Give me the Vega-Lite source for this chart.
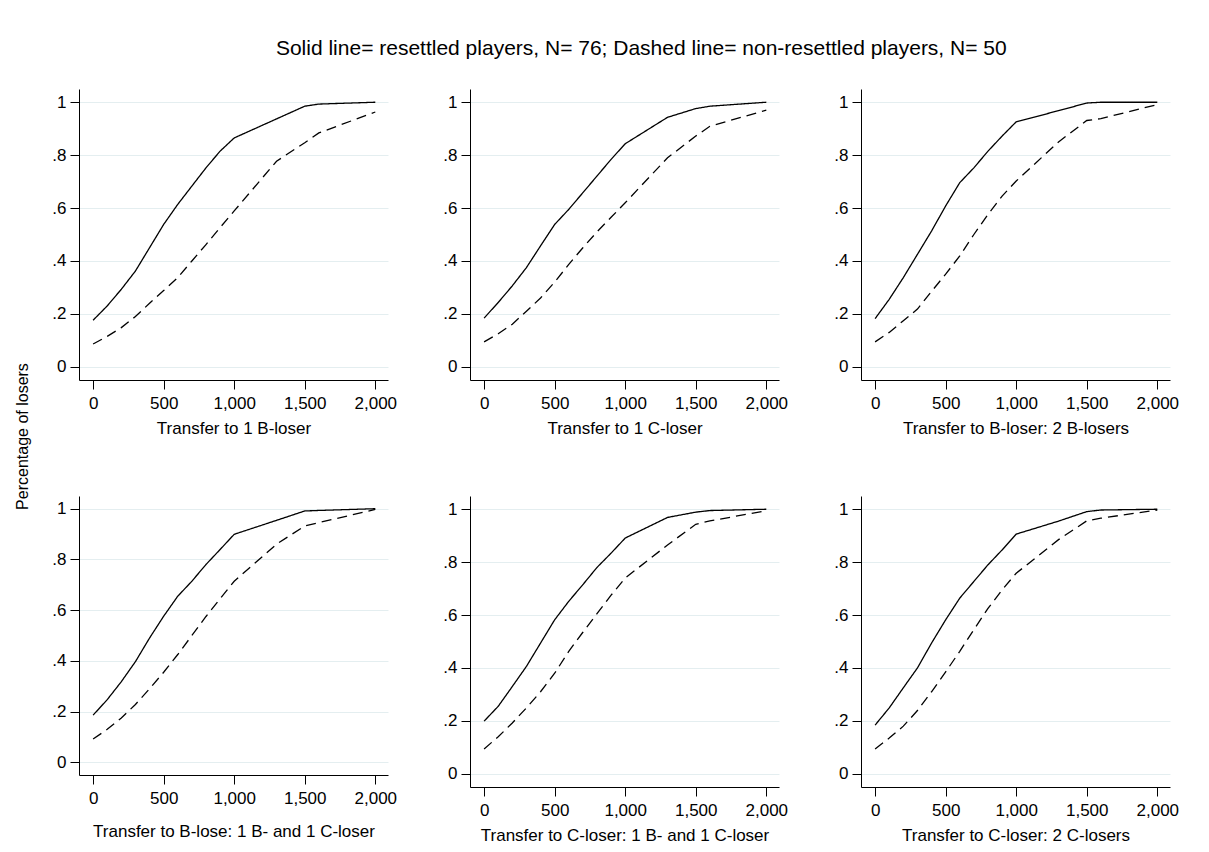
{
  "$schema": "https://vega.github.io/schema/vega-lite/v6.json",
  "background": "white",
  "padding": {"left": 14, "top": 38, "right": 5, "bottom": 5},
  "title": {"text": "Solid line= resettled players, N= 76; Dashed line= non-resettled players, N= 50", "font": "Liberation Sans", "fontSize": 21, "fontWeight": "normal", "color": "black", "anchor": "middle", "offset": 30, "dx": 45},
  "data": {"values": [
    {"p":1,"x":0,"s":0.176,"d":0.086},{"p":1,"x":100,"s":0.23,"d":0.115},{"p":1,"x":200,"s":0.293,"d":0.148},{"p":1,"x":300,"s":0.362,"d":0.19},{"p":1,"x":400,"s":0.45,"d":0.24},{"p":1,"x":500,"s":0.538,"d":0.288},{"p":1,"x":600,"s":0.614,"d":0.337},{"p":1,"x":700,"s":0.683,"d":0.4},{"p":1,"x":800,"s":0.752,"d":0.462},{"p":1,"x":900,"s":0.815,"d":0.526},{"p":1,"x":1000,"s":0.865,"d":0.589},{"p":1,"x":1300,"s":0.937,"d":0.777},{"p":1,"x":1500,"s":0.985,"d":0.847},{"p":1,"x":1600,"s":0.993,"d":0.884},{"p":1,"x":2000,"s":1.0,"d":0.963},
    {"p":2,"x":0,"s":0.184,"d":0.094},{"p":2,"x":100,"s":0.243,"d":0.125},{"p":2,"x":200,"s":0.306,"d":0.161},{"p":2,"x":300,"s":0.375,"d":0.21},{"p":2,"x":400,"s":0.457,"d":0.26},{"p":2,"x":500,"s":0.538,"d":0.32},{"p":2,"x":600,"s":0.595,"d":0.387},{"p":2,"x":700,"s":0.658,"d":0.45},{"p":2,"x":800,"s":0.721,"d":0.51},{"p":2,"x":900,"s":0.784,"d":0.565},{"p":2,"x":1000,"s":0.843,"d":0.62},{"p":2,"x":1300,"s":0.943,"d":0.79},{"p":2,"x":1500,"s":0.976,"d":0.872},{"p":2,"x":1600,"s":0.985,"d":0.909},{"p":2,"x":2000,"s":1.0,"d":0.97},
    {"p":3,"x":0,"s":0.182,"d":0.094},{"p":3,"x":100,"s":0.255,"d":0.13},{"p":3,"x":200,"s":0.337,"d":0.174},{"p":3,"x":300,"s":0.425,"d":0.218},{"p":3,"x":400,"s":0.513,"d":0.285},{"p":3,"x":500,"s":0.608,"d":0.35},{"p":3,"x":600,"s":0.696,"d":0.419},{"p":3,"x":700,"s":0.752,"d":0.5},{"p":3,"x":800,"s":0.815,"d":0.576},{"p":3,"x":900,"s":0.872,"d":0.645},{"p":3,"x":1000,"s":0.926,"d":0.702},{"p":3,"x":1300,"s":0.968,"d":0.85},{"p":3,"x":1500,"s":0.997,"d":0.931},{"p":3,"x":1600,"s":1.0,"d":0.938},{"p":3,"x":2000,"s":1.0,"d":0.991},
    {"p":4,"x":0,"s":0.186,"d":0.092},{"p":4,"x":100,"s":0.247,"d":0.13},{"p":4,"x":200,"s":0.318,"d":0.175},{"p":4,"x":300,"s":0.397,"d":0.228},{"p":4,"x":400,"s":0.49,"d":0.29},{"p":4,"x":500,"s":0.576,"d":0.355},{"p":4,"x":600,"s":0.655,"d":0.425},{"p":4,"x":700,"s":0.714,"d":0.5},{"p":4,"x":800,"s":0.78,"d":0.575},{"p":4,"x":900,"s":0.839,"d":0.645},{"p":4,"x":1000,"s":0.899,"d":0.714},{"p":4,"x":1300,"s":0.954,"d":0.86},{"p":4,"x":1500,"s":0.991,"d":0.932},{"p":4,"x":1600,"s":0.993,"d":0.945},{"p":4,"x":2000,"s":1.0,"d":0.997},
    {"p":5,"x":0,"s":0.199,"d":0.094},{"p":5,"x":100,"s":0.255,"d":0.14},{"p":5,"x":200,"s":0.33,"d":0.192},{"p":5,"x":300,"s":0.406,"d":0.249},{"p":5,"x":400,"s":0.494,"d":0.31},{"p":5,"x":500,"s":0.582,"d":0.38},{"p":5,"x":600,"s":0.652,"d":0.463},{"p":5,"x":700,"s":0.715,"d":0.535},{"p":5,"x":800,"s":0.78,"d":0.605},{"p":5,"x":900,"s":0.834,"d":0.675},{"p":5,"x":1000,"s":0.891,"d":0.74},{"p":5,"x":1300,"s":0.969,"d":0.865},{"p":5,"x":1500,"s":0.989,"d":0.943},{"p":5,"x":1600,"s":0.995,"d":0.956},{"p":5,"x":2000,"s":1.0,"d":0.994},
    {"p":6,"x":0,"s":0.184,"d":0.094},{"p":6,"x":100,"s":0.249,"d":0.135},{"p":6,"x":200,"s":0.325,"d":0.18},{"p":6,"x":300,"s":0.4,"d":0.239},{"p":6,"x":400,"s":0.494,"d":0.31},{"p":6,"x":500,"s":0.582,"d":0.385},{"p":6,"x":600,"s":0.664,"d":0.463},{"p":6,"x":700,"s":0.727,"d":0.545},{"p":6,"x":800,"s":0.79,"d":0.625},{"p":6,"x":900,"s":0.846,"d":0.695},{"p":6,"x":1000,"s":0.906,"d":0.758},{"p":6,"x":1300,"s":0.955,"d":0.885},{"p":6,"x":1500,"s":0.991,"d":0.956},{"p":6,"x":1600,"s":0.997,"d":0.966},{"p":6,"x":2000,"s":1.0,"d":0.997}
  ]},
  "config": {
    "view": {"stroke": null},
    "axis": {"labelFont": "Liberation Sans", "titleFont": "Liberation Sans", "labelFontSize": 17, "titleFontSize": 17, "titleFontWeight": "normal", "labelColor": "black", "titleColor": "black", "domainColor": "black", "tickColor": "black", "tickSize": 9, "domainWidth": 1, "tickWidth": 1, "gridColor": "#e4eef0", "gridWidth": 1},
    "axisX": {"grid": false, "labelPadding": 6, "titlePadding": 9, "labelFlush": false},
    "axisY": {"grid": true, "labelPadding": 4}
  },
  "columns": 3,
  "spacing": {"row": 116, "column": 82},
  "bounds": "flush",
  "concat": [
      {"width": 309, "height": 291, "transform": [{"filter": "datum.p == 1"}, {"fold": ["s", "d"], "as": ["g", "y"]}],
       "mark": {"type": "line", "color": "black", "strokeWidth": 1.3},
       "encoding": {
         "x": {"field": "x", "type": "quantitative", "scale": {"domain": [-100, 2090], "nice": false, "zero": false}, "axis": {"values": [0, 500, 1000, 1500, 2000], "format": ",.0f", "title": "Transfer to 1 B-loser"}},
         "y": {"field": "y", "type": "quantitative", "scale": {"domain": [-0.05, 1.05], "nice": false}, "axis": {"values": [0, 0.2, 0.4, 0.6, 0.8, 1], "labelExpr": "datum.value == 0 ? '0' : datum.value == 1 ? '1' : replace(format(datum.value, '.1f'), '0.', '.')", "title": "Percentage of losers", "titleFontSize": 16, "titleX": -57, "titleY": 347, "titleAngle": -90, "titleAlign": "center", "titleBaseline": "middle"}},
         "strokeDash": {"field": "g", "type": "nominal", "scale": {"domain": ["s", "d"], "range": [[1, 0], [10, 6]]}, "legend": null}
       }},
      {"width": 309, "height": 291, "transform": [{"filter": "datum.p == 2"}, {"fold": ["s", "d"], "as": ["g", "y"]}],
       "mark": {"type": "line", "color": "black", "strokeWidth": 1.3},
       "encoding": {
         "x": {"field": "x", "type": "quantitative", "scale": {"domain": [-100, 2090], "nice": false, "zero": false}, "axis": {"values": [0, 500, 1000, 1500, 2000], "format": ",.0f", "title": "Transfer to 1 C-loser"}},
         "y": {"field": "y", "type": "quantitative", "scale": {"domain": [-0.05, 1.05], "nice": false}, "axis": {"values": [0, 0.2, 0.4, 0.6, 0.8, 1], "labelExpr": "datum.value == 0 ? '0' : datum.value == 1 ? '1' : replace(format(datum.value, '.1f'), '0.', '.')", "title": null}},
         "strokeDash": {"field": "g", "type": "nominal", "scale": {"domain": ["s", "d"], "range": [[1, 0], [10, 6]]}, "legend": null}
       }},
      {"width": 309, "height": 291, "transform": [{"filter": "datum.p == 3"}, {"fold": ["s", "d"], "as": ["g", "y"]}],
       "mark": {"type": "line", "color": "black", "strokeWidth": 1.3},
       "encoding": {
         "x": {"field": "x", "type": "quantitative", "scale": {"domain": [-100, 2090], "nice": false, "zero": false}, "axis": {"values": [0, 500, 1000, 1500, 2000], "format": ",.0f", "title": "Transfer to B-loser: 2 B-losers"}},
         "y": {"field": "y", "type": "quantitative", "scale": {"domain": [-0.05, 1.05], "nice": false}, "axis": {"values": [0, 0.2, 0.4, 0.6, 0.8, 1], "labelExpr": "datum.value == 0 ? '0' : datum.value == 1 ? '1' : replace(format(datum.value, '.1f'), '0.', '.')", "title": null}},
         "strokeDash": {"field": "g", "type": "nominal", "scale": {"domain": ["s", "d"], "range": [[1, 0], [10, 6]]}, "legend": null}
       }},
      {"width": 309, "height": 279, "transform": [{"filter": "datum.p == 4"}, {"fold": ["s", "d"], "as": ["g", "y"]}],
       "mark": {"type": "line", "color": "black", "strokeWidth": 1.3},
       "encoding": {
         "x": {"field": "x", "type": "quantitative", "scale": {"domain": [-100, 2090], "nice": false, "zero": false}, "axis": {"values": [0, 500, 1000, 1500, 2000], "format": ",.0f", "title": "Transfer to B-lose: 1 B- and 1 C-loser", "titlePadding": 17}},
         "y": {"field": "y", "type": "quantitative", "scale": {"domain": [-0.05, 1.05], "nice": false}, "axis": {"values": [0, 0.2, 0.4, 0.6, 0.8, 1], "labelExpr": "datum.value == 0 ? '0' : datum.value == 1 ? '1' : replace(format(datum.value, '.1f'), '0.', '.')", "title": null}},
         "strokeDash": {"field": "g", "type": "nominal", "scale": {"domain": ["s", "d"], "range": [[1, 0], [10, 6]]}, "legend": null}
       }},
      {"width": 309, "height": 291, "transform": [{"filter": "datum.p == 5"}, {"fold": ["s", "d"], "as": ["g", "y"]}],
       "mark": {"type": "line", "color": "black", "strokeWidth": 1.3},
       "encoding": {
         "x": {"field": "x", "type": "quantitative", "scale": {"domain": [-100, 2090], "nice": false, "zero": false}, "axis": {"values": [0, 500, 1000, 1500, 2000], "format": ",.0f", "title": "Transfer to C-loser: 1 B- and 1 C-loser"}},
         "y": {"field": "y", "type": "quantitative", "scale": {"domain": [-0.05, 1.05], "nice": false}, "axis": {"values": [0, 0.2, 0.4, 0.6, 0.8, 1], "labelExpr": "datum.value == 0 ? '0' : datum.value == 1 ? '1' : replace(format(datum.value, '.1f'), '0.', '.')", "title": null}},
         "strokeDash": {"field": "g", "type": "nominal", "scale": {"domain": ["s", "d"], "range": [[1, 0], [10, 6]]}, "legend": null}
       }},
      {"width": 309, "height": 291, "transform": [{"filter": "datum.p == 6"}, {"fold": ["s", "d"], "as": ["g", "y"]}],
       "mark": {"type": "line", "color": "black", "strokeWidth": 1.3},
       "encoding": {
         "x": {"field": "x", "type": "quantitative", "scale": {"domain": [-100, 2090], "nice": false, "zero": false}, "axis": {"values": [0, 500, 1000, 1500, 2000], "format": ",.0f", "title": "Transfer to C-loser: 2 C-losers"}},
         "y": {"field": "y", "type": "quantitative", "scale": {"domain": [-0.05, 1.05], "nice": false}, "axis": {"values": [0, 0.2, 0.4, 0.6, 0.8, 1], "labelExpr": "datum.value == 0 ? '0' : datum.value == 1 ? '1' : replace(format(datum.value, '.1f'), '0.', '.')", "title": null}},
         "strokeDash": {"field": "g", "type": "nominal", "scale": {"domain": ["s", "d"], "range": [[1, 0], [10, 6]]}, "legend": null}
       }}
  ]
}
